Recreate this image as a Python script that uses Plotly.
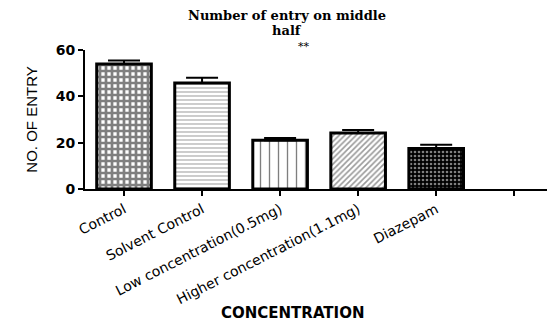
import plotly.graph_objects as go

categories = ["Control", "Solvent Control", "Low concentration(0.5mg)",
              "Higher concentration(1.1mg)", "Diazepam", ""]
means = [54, 45.8, 21, 24.2, 17.5]
errors = [1.5, 2.2, 1.0, 1.3, 1.6]
shapes = ["+", "-", "|", "/", "."]
bgcolors = ["white", "white", "white", "white", "black"]
fgcolors = ["black", "#555555", "black", "#333333", "white"]
sizes = [6, 4, 9, 4, 4]
solidities = [0.7, 0.3, 0.15, 0.4, 0.35]
yticks = [0, 20, 40, 60]
title_lines = ["Number of entry on middle", "half"]
x_title = "CONCENTRATION"
y_title = "NO. OF ENTRY"

fig = go.Figure()
for i in range(len(means)):
    fig.add_trace(go.Bar(
        x=[i], y=[means[i]], width=0.7,
        marker=dict(color=bgcolors[i],
                    line=dict(color="black", width=3),
                    pattern=dict(shape=shapes[i], bgcolor=bgcolors[i],
                                 fgcolor=fgcolors[i], size=sizes[i],
                                 solidity=solidities[i], fillmode="overlay")),
        error_y=dict(type="data", symmetric=False, array=[errors[i]],
                     arrayminus=[0], color="black", thickness=2, width=16),
        showlegend=False,
    ))

fig.update_layout(
    width=547, height=324,
    margin=dict(l=85, r=0, t=50, b=135),
    plot_bgcolor="white", paper_bgcolor="white",
    xaxis=dict(range=[-0.5, 5.42], tickmode="array", tickvals=list(range(len(categories))),
               ticktext=categories, tickangle=-27,
               showline=True, linecolor="black", linewidth=2,
               ticks="outside", ticklen=5, tickwidth=2, tickcolor="black",
               showgrid=False, zeroline=False,
               tickfont=dict(family="DejaVu Sans", size=14, color="black")),
    yaxis=dict(range=[0, 60], tickvals=yticks,
               showline=True, linecolor="black", linewidth=2,
               ticks="outside", ticklen=5, tickwidth=2, tickcolor="black",
               showgrid=False, zeroline=False,
               tickfont=dict(family="DejaVu Sans", size=14, color="black", weight="bold"),
               title=dict(text=y_title, standoff=14,
                          font=dict(family="Liberation Sans Narrow, Liberation Sans", size=15, color="black"))),
)
ph = 139  # plot height in px (for paper coordinate offsets)
fig.add_annotation(text="<b>" + title_lines[0] + "</b>", xref="paper", yref="paper",
                   x=0.438, y=1.0 + 34 / ph, xanchor="center", yanchor="middle", showarrow=False,
                   font=dict(family="DejaVu Serif", size=13, color="black"))
fig.add_annotation(text="<b>" + title_lines[1] + "</b>", xref="paper", yref="paper",
                   x=0.438, y=1.0 + 19 / ph, xanchor="center", yanchor="middle", showarrow=False,
                   font=dict(family="DejaVu Serif", size=13, color="black"))
fig.add_annotation(text="**", xref="paper", yref="paper",
                   x=0.474, y=1.0 + 3 / ph, xanchor="center", yanchor="middle", showarrow=False,
                   font=dict(family="DejaVu Serif", size=11, color="black"))
fig.add_annotation(text="<b>" + x_title + "</b>", xref="paper", yref="paper",
                   x=0.45, y=-124 / ph, xanchor="center", yanchor="middle", showarrow=False,
                   font=dict(family="DejaVu Sans", size=15, color="black"))

fig.write_html("out.html")
